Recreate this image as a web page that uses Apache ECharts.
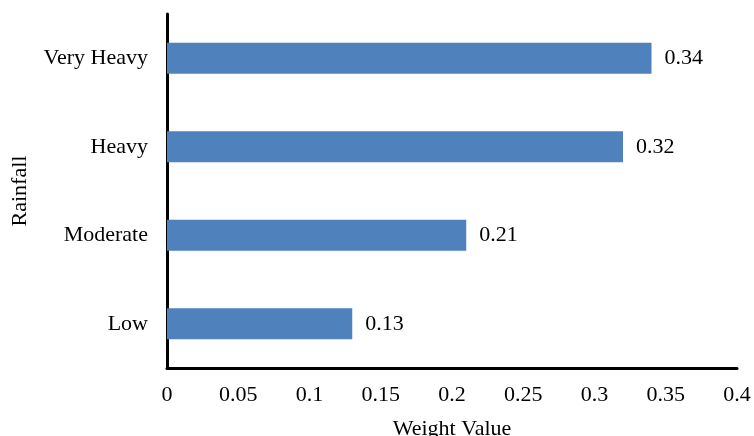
<!DOCTYPE html>
<html>
<head>
<meta charset="utf-8">
<script src="https://cdn.jsdelivr.net/npm/echarts@6/dist/echarts.min.js"></script>
<style>
  html, body { margin: 0; padding: 0; background: #fff; }
  #chart { width: 754px; height: 436px; }
</style>
</head>
<body>
<div id="chart"></div>
<script>
// Rainfall classes, bottom to top
const categories = ['Low', 'Moderate', 'Heavy', 'Very Heavy'];
const weights = [0.13, 0.21, 0.32, 0.34];
const xTicks = [0, 0.05, 0.1, 0.15, 0.2, 0.25, 0.3, 0.35, 0.4];

const FONT = '"Liberation Serif", "Times New Roman", serif';
const FS = 22;

const chart = echarts.init(document.getElementById('chart'), null, { renderer: 'canvas' });
chart.setOption({
  animation: false,
  grid: { left: 167, right: 17, top: 14, bottom: 68, containLabel: false, outerBoundsMode: 'none' },
  xAxis: {
    type: 'value',
    min: xTicks[0],
    max: xTicks[xTicks.length - 1],
    interval: 0.05,
    name: 'Weight Value',
    nameLocation: 'middle',
    nameGap: 50,
    nameTextStyle: { fontFamily: FONT, fontSize: FS, color: '#000' },
    axisLine: { show: true, lineStyle: { color: '#000', width: 3 } },
    axisTick: { show: false },
    splitLine: { show: false },
    axisLabel: {
      fontFamily: FONT, fontSize: FS, color: '#000', margin: 16,
      formatter: v => String(parseFloat(v.toFixed(2)))
    }
  },
  yAxis: {
    type: 'category',
    data: categories,
    name: 'Rainfall',
    nameLocation: 'middle',
    nameGap: 136,
    nameTextStyle: { fontFamily: FONT, fontSize: FS, color: '#000' },
    axisLine: { show: true, lineStyle: { color: '#000', width: 3 } },
    axisTick: { show: false },
    axisLabel: { fontFamily: FONT, fontSize: FS, color: '#000', margin: 19 }
  },
  series: [{
    type: 'bar',
    data: weights,
    barWidth: '35%',
    itemStyle: { color: '#4F81BD' },
    label: {
      show: true, position: 'right', distance: 13,
      fontFamily: FONT, fontSize: FS, color: '#000'
    }
  }]
});
</script>
</body>
</html>
